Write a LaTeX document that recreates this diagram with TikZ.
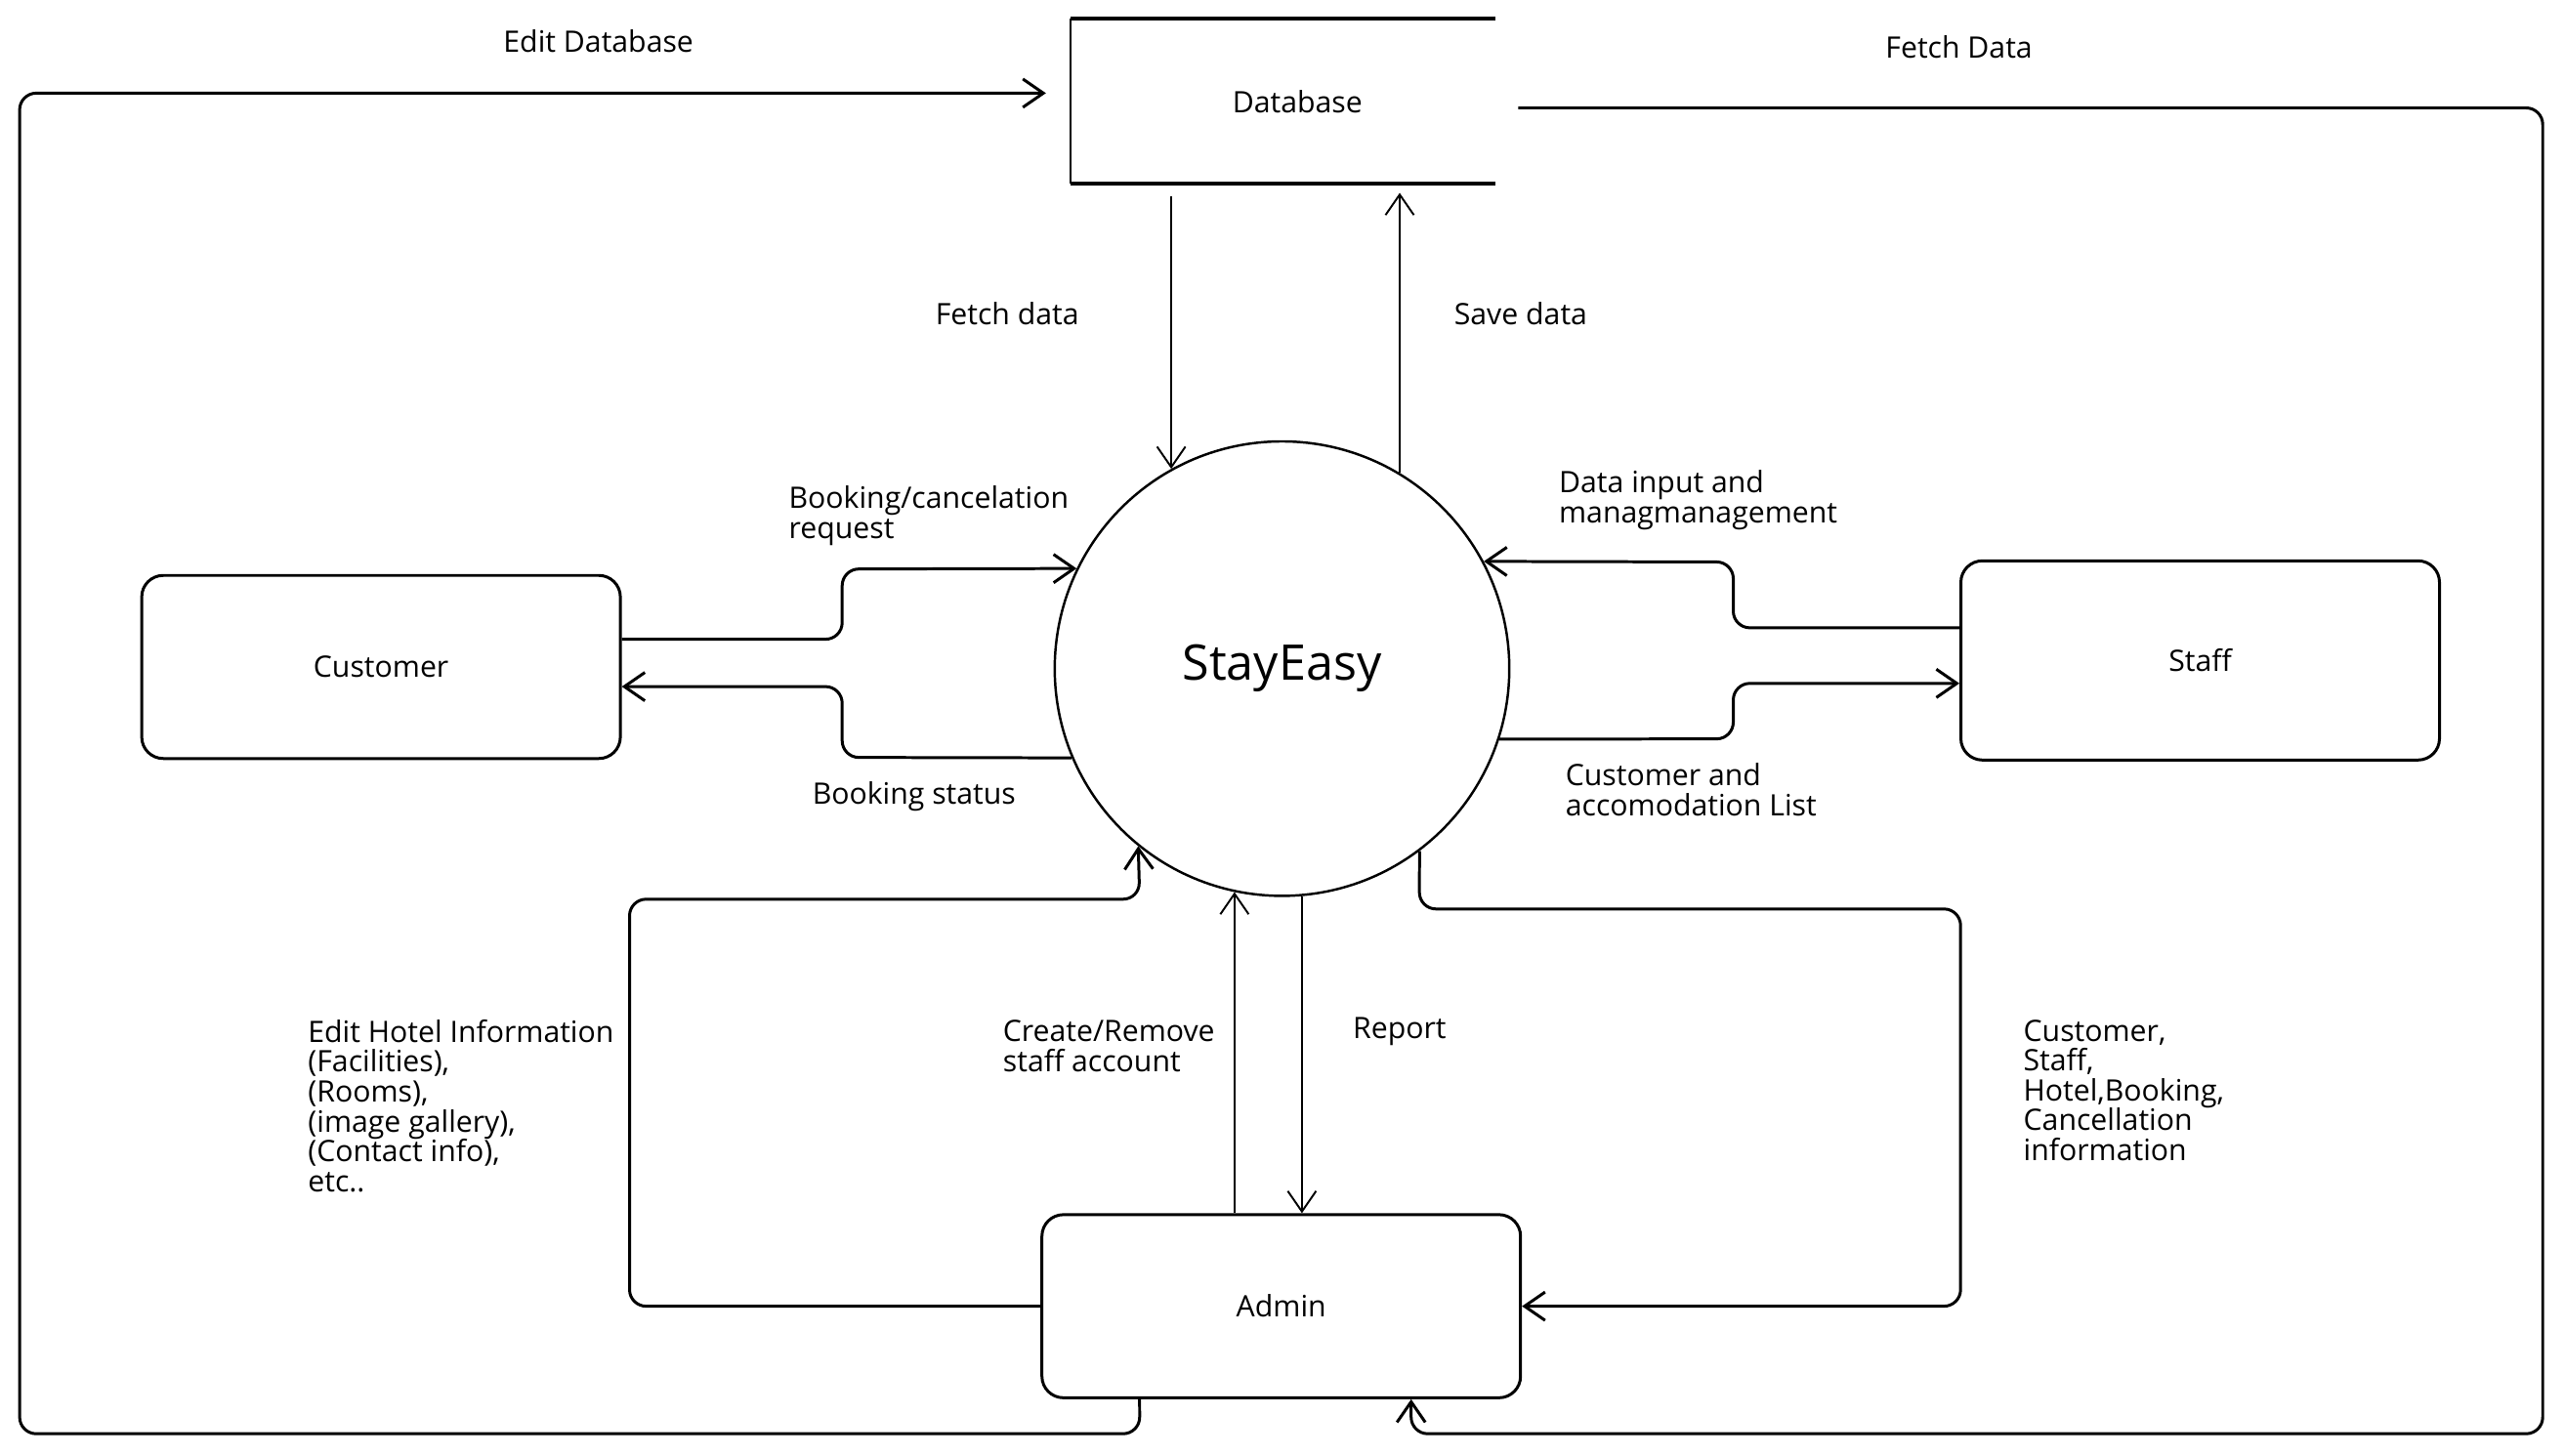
\documentclass[tikz,border=0pt]{standalone}
\usepackage{fontspec}
\setmainfont{Open Sans}
\usepackage{tikz}
\usetikzlibrary{arrows.meta, positioning, calc}

\begin{document}
\begin{tikzpicture}[
		entity/.style={draw, line width=0.85pt, rounded corners=0.22cm, minimum width=4.9cm, minimum height=1.875cm, font=\fontsize{8.6}{8.7}\selectfont},
		flow/.style={line width=0.85pt, rounded corners=0.17cm, -{Straight Barb[length=2.1mm,width=2.9mm]}},
		thinflow/.style={line width=0.55pt, -{Straight Barb[length=2.1mm,width=2.9mm]}},
		lbl/.style={font=\fontsize{8.6}{8.7}\selectfont, inner sep=0pt, align=left}
	]
		\useasboundingbox (0,0) rectangle (26.25,-14.90);

		% Process and entities
		\node[circle, draw, line width=0.7pt, minimum size=4.654cm, font=\fontsize{14.3}{16}\selectfont] (se) at (13.125,-6.847) {StayEasy};
		\node[minimum width=4.336cm, minimum height=1.674cm, font=\fontsize{8.6}{8.7}\selectfont] (db) at (13.133,-1.038) {\hspace{0.3cm}Database};
		\node[entity] (customer) at (3.901,-6.830) {Customer};
		\node[entity, minimum height=2.04cm] (staff) at (22.525,-6.763) {Staff};
		\node[entity] (admin) at (13.117,-13.376) {Admin};

		% Data store
		\draw[line width=1.2pt] (db.north east) -- (db.north west);
		\draw[line width=0.6pt] (db.north west) -- (db.south west);
		\draw[line width=1.2pt] (db.south west) -- (db.south east);

		% Database flows
		\draw[thinflow] (se.119 |- 0,-2.009) -- (se.119);
		\draw[thinflow] (se.59) -- (se.59 |- 0,-1.975);
		\draw[flow] ([xshift=-1.45cm]admin.south) -- (11.668,-14.682) -- (0.201,-14.682) -- (0.201,-0.954) -- ([shift={(-0.25,0.084)}]db.west);
		\draw[flow] ([shift={(0.235,-0.067)}]db.east) -- (26.032,-1.105) -- (26.032,-14.682) -- (14.447,-14.682) -- ([xshift=1.33cm]admin.south);

		% Customer flows
		\draw[flow] (customer.east |- 0,-6.546) -- (8.622,-6.546) -- (8.622,-5.827) -- (se.154);
		\draw[flow] (se.203) -- (8.622,-7.756) -- (8.622,-7.031) -- (customer.east |- 0,-7.031);

		% Staff flows
		\draw[flow] (staff.west |- 0,-6.429) -- (17.745,-6.429) -- (17.745,-5.755) -- (se.28);
		\draw[flow] (se.-18) -- (17.745,-7.566) -- (17.745,-6.998) -- (staff.west |- 0,-6.998);

		% Admin flows
		\draw[flow] (admin.west) -- (6.445,-13.376) -- (6.445,-9.208) -- (11.668,-9.208) -- (se.231);
		\draw[thinflow] (admin.north -| se.258) -- (se.258);
		\draw[thinflow] (se.275) -- (se.275 |- admin.north);
		\draw[flow] (se.307) -- (14.531,-9.308) -- (20.072,-9.308) -- (20.072,-13.376) -- (admin.east);

		% Labels
		\node[lbl] (l-editdb) at (6.127,-0.419) {Edit Database};
		\node[lbl] (l-fetchdb) at (20.056,-0.485) {Fetch Data};
		\node[lbl] (l-fetch) at (10.312,-3.214) {Fetch data};
		\node[lbl] (l-save) at (15.569,-3.214) {Save data};
		\node[lbl, anchor=west] (l-request) at (8.069,-5.282) {Booking/cancelation\\request};
		\node[lbl] (l-status) at (9.358,-8.153) {Booking status};
		\node[lbl, anchor=west] (l-input) at (15.954,-5.123) {Data input and\\managmanagement};
		\node[lbl, anchor=west] (l-list) at (16.021,-8.086) {Customer and\\accomodation List};
		\node[lbl, anchor=west] (l-hotel) at (3.147,-11.325) {Edit Hotel Information\\(Facilities),\\(Rooms),\\(image gallery),\\(Contact info),\\etc..};
		\node[lbl, anchor=west] (l-account) at (10.262,-10.714) {Create/Remove\\staff account};
		\node[lbl, anchor=west] (l-report) at (13.845,-10.564) {Report};
		\node[lbl, anchor=west] (l-info) at (20.709,-11.166) {Customer,\\Staff,\\Hotel,Booking,\\Cancellation\\information};
	\end{tikzpicture}
\end{document}
